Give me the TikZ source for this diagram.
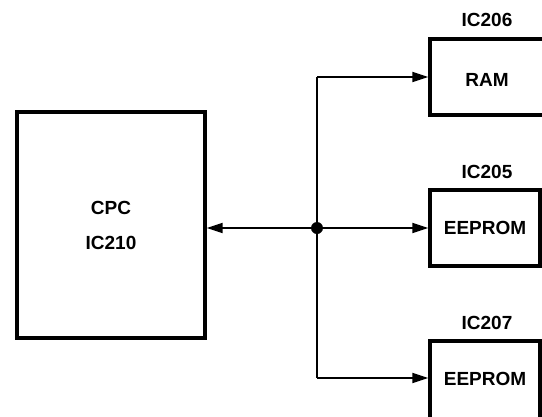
\documentclass[tikz,border=0pt]{standalone}
\usepackage{fontspec}
\setmainfont{Liberation Sans}
\usetikzlibrary{arrows.meta}
\begin{document}
\begin{tikzpicture}[x=1pt,y=-1pt,
  blk/.style={draw,line width=3.4pt,rectangle,inner sep=0pt,font=\fontsize{19}{23}\selectfont\bfseries},
  lbl/.style={font=\fontsize{19}{23}\selectfont\bfseries,inner sep=0pt},
  conn/.style={line width=2pt,-{Triangle[length=16pt,width=10pt]}},
  wire/.style={line width=2pt}]
\useasboundingbox (0,0) rectangle (542,416);
\clip (0,0) rectangle (542,416);
\node[blk,minimum width=188pt,minimum height=226pt,align=center] (cpc) at (111,225)
  {CPC\\[12pt]IC210};
\node[blk,minimum width=118pt,minimum height=76pt] (ram) at (489,77) {};
\node[lbl] (ramt) at (487,80) {RAM};
\node[blk,minimum width=110pt,minimum height=76pt] (ee1) at (485,228) {EEPROM};
\node[blk,minimum width=110pt,minimum height=78pt] (ee2) at (485,380) {};
\node[lbl] (ee2t) at (485,379) {EEPROM};
\node[lbl] (l206) at (487,20) {IC206};
\node[lbl] (l205) at (487,172) {IC205};
\node[lbl] (l207) at (487,323) {IC207};
\coordinate (j) at (317,228);
\coordinate (jt) at (317,77);
\coordinate (jb) at (317,378);
\draw[wire] (jt) -- (jb);
\draw[conn] (jt) -- (ram.west |- jt);
\draw[conn] (j) -- (ee1.west |- j);
\draw[conn] (jb) -- (ee2.west |- jb);
\draw[conn] (j) -- (cpc.east |- j);
\fill (j) circle (6pt);
\end{tikzpicture}
\end{document}
